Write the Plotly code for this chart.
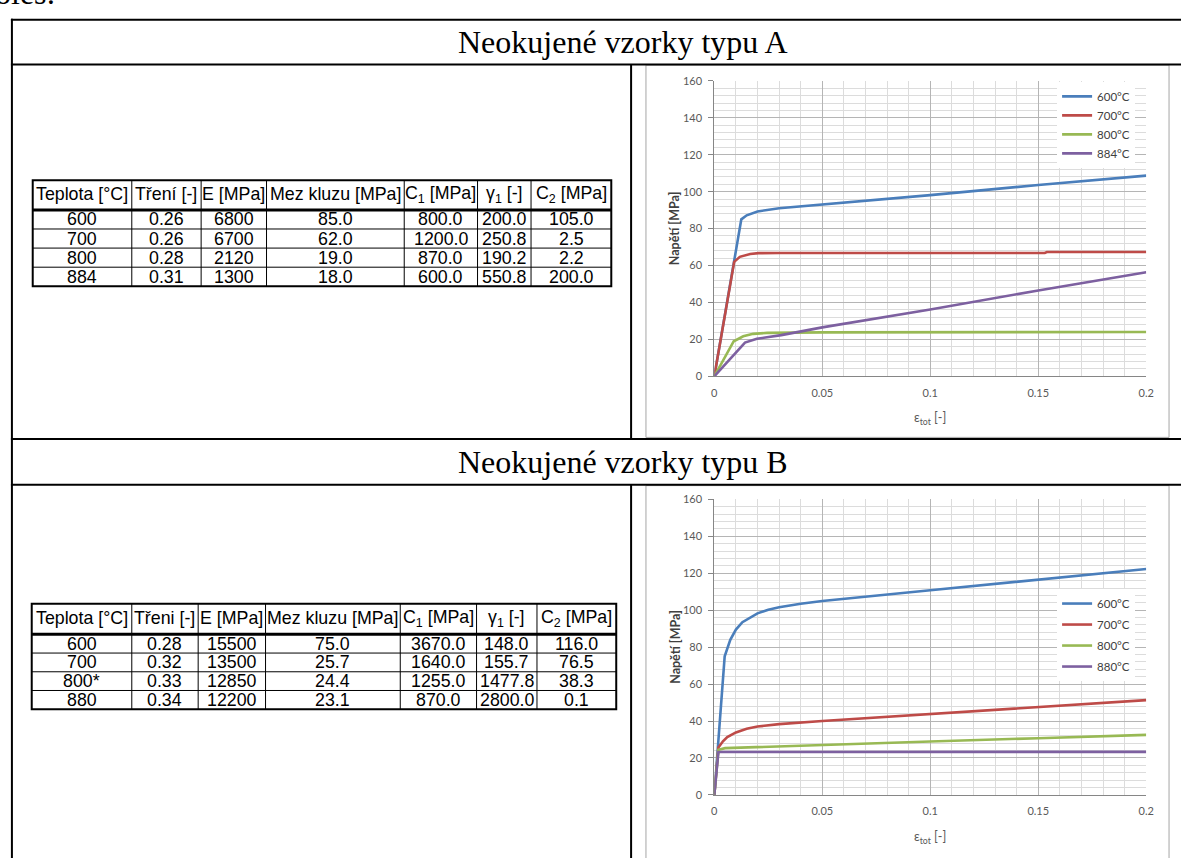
import plotly.graph_objects as go

W, H = 1181, 858

# ---------------- material parameters, type A ----------------
hdr_a = ["Teplota [°C]", "Tření [-]", "E [MPa]", "Mez kluzu [MPa]",
         "C<sub>1</sub> [MPa]", "γ<sub>1</sub> [-]", "C<sub>2</sub> [MPa]"]
teplota_a = ["600", "700", "800", "884"]
treni_a = [0.26, 0.26, 0.28, 0.31]
modul_a = [6800, 6700, 2120, 1300]
mez_a = [85.0, 62.0, 19.0, 18.0]
c1_a = [800.0, 1200.0, 870.0, 600.0]
gamma1_a = [200.0, 250.8, 190.2, 550.8]
c2_a = [105.0, 2.5, 2.2, 200.0]

# ---------------- material parameters, type B ----------------
hdr_b = ["Teplota [°C]", "Třeni [-]", "E [MPa]", "Mez kluzu [MPa]",
         "C<sub>1</sub> [MPa]", "γ<sub>1</sub> [-]", "C<sub>2</sub> [MPa]"]
teplota_b = ["600", "700", "800*", "880"]
treni_b = [0.28, 0.32, 0.33, 0.34]
modul_b = [15500, 13500, 12850, 12200]
mez_b = [75.0, 25.7, 24.4, 23.1]
c1_b = [3670.0, 1640.0, 1255.0, 870.0]
gamma1_b = [148.0, 155.7, 1477.8, 2800.0]
c2_b = [116.0, 76.5, 38.3, 0.1]

# ---------------- stress-strain curves, type A ----------------
names_a = ["600°C", "700°C", "800°C", "884°C"]
eps_a600 = [0, 0.0125, 0.015, 0.02, 0.03, 0.05, 0.1, 0.15, 0.2]
sig_a600 = [0, 85.0, 87.2, 89.3, 91.0, 93.0, 98.1, 103.6, 108.7]
eps_a700 = [0, 0.0092, 0.0118, 0.0166, 0.0205, 0.03, 0.153, 0.154, 0.2]
sig_a700 = [0, 62.0, 64.7, 66.2, 66.7, 66.8, 66.8, 67.3, 67.3]
eps_a800 = [0, 0.009, 0.0134, 0.018, 0.0245, 0.05, 0.2]
sig_a800 = [0, 19.0, 21.7, 23.0, 23.5, 23.8, 24.0]
eps_a884 = [0, 0.0142, 0.0197, 0.031, 0.05, 0.1, 0.15, 0.2]
sig_a884 = [0, 18.3, 20.3, 22.3, 26.5, 36.2, 46.5, 56.4]

# ---------------- stress-strain curves, type B ----------------
names_b = ["600°C", "700°C", "800°C", "880°C"]
eps_b600 = [0, 0.0048, 0.0074, 0.01, 0.013, 0.017, 0.02, 0.025, 0.03, 0.04, 0.05, 0.1, 0.15, 0.2]
sig_b600 = [0, 75.0, 84.0, 89.5, 93.5, 96.5, 98.3, 100.3, 101.6, 103.5, 105.0, 110.8, 116.4, 122.3]
eps_b700 = [0, 0.0019, 0.004, 0.006, 0.01, 0.015, 0.02, 0.03, 0.05, 0.1, 0.15, 0.2]
sig_b700 = [0, 25.7, 29.0, 31.3, 33.8, 35.8, 37.0, 38.3, 40.0, 43.9, 47.7, 51.3]
eps_b800 = [0, 0.0019, 0.005, 0.02, 0.05, 0.1, 0.15, 0.2]
sig_b800 = [0, 24.4, 25.3, 25.9, 26.9, 28.9, 30.7, 32.5]
eps_b880 = [0, 0.0019, 0.2]
sig_b880 = [0, 23.2, 23.3]

colors = ["#4A7EBB", "#BE4B48", "#98B954", "#7D60A0"]


def px(x):
    """page x pixel -> paper fraction"""
    return x / W


def py(y):
    """page y pixel -> paper fraction"""
    return 1 - y / H


fig = go.Figure()

# ---------------- charts ----------------
curves_a = [(eps_a600, sig_a600), (eps_a700, sig_a700), (eps_a800, sig_a800), (eps_a884, sig_a884)]
curves_b = [(eps_b600, sig_b600), (eps_b700, sig_b700), (eps_b800, sig_b800), (eps_b880, sig_b880)]

for (ex, sy), name, col in zip(curves_a, names_a, colors):
    fig.add_trace(go.Scatter(x=ex, y=sy, mode="lines", name=name,
                             line=dict(color=col, width=2.6),
                             xaxis="x", yaxis="y", legend="legend"))
for (ex, sy), name, col in zip(curves_b, names_b, colors):
    fig.add_trace(go.Scatter(x=ex, y=sy, mode="lines", name=name,
                             line=dict(color=col, width=2.6), legendgroup=name,
                             xaxis="x2", yaxis="y2", legend="legend2"))

tickfont = dict(family="Lato, Carlito, Calibri, sans-serif", size=11, color="#595959")
x_common = dict(range=[0, 0.2], dtick=0.05, tick0=0, showgrid=True, gridcolor="#B5B5B5",
                gridwidth=1, minor=dict(dtick=0.01, showgrid=True, gridcolor="#DCDCDC"),
                showline=True, linecolor="#868686", linewidth=1, zeroline=False,
                ticks="", tickfont=tickfont, ticklabelstandoff=6, fixedrange=True)
y_common = dict(range=[0, 160], dtick=20, tick0=0, showgrid=True, gridcolor="#B5B5B5",
                gridwidth=1, minor=dict(dtick=4, showgrid=True, gridcolor="#DCDCDC"),
                showline=True, linecolor="#868686", linewidth=1, zeroline=False,
                ticks="outside", ticklen=5, tickcolor="#868686",
                tickfont=tickfont, ticklabelstandoff=4, fixedrange=True)

fig.update_layout(
    xaxis=dict(domain=[px(718), px(1154)], anchor="y", **x_common),
    yaxis=dict(domain=[py(375), py(75)], anchor="x", **y_common),
    xaxis2=dict(domain=[px(718), px(1154)], anchor="y2", **x_common),
    yaxis2=dict(domain=[py(800), py(500)], anchor="x2", **y_common),
)

legend_font = dict(family="Lato, Carlito, Calibri, sans-serif", size=11.5, color="#404040")
fig.update_layout(
    legend=dict(x=px(1064), xanchor="left", y=py(76), yanchor="top", bgcolor="white",
                borderwidth=0, font=legend_font, itemwidth=30, tracegroupgap=0,
                itemclick=False, itemdoubleclick=False),
    legend2=dict(x=px(1064), xanchor="left", y=py(591), yanchor="top", bgcolor="white",
                 borderwidth=0, font=legend_font, itemwidth=30, tracegroupgap=2,
                 itemclick=False, itemdoubleclick=False),
)

annotations = []
shapes = []

# axis titles
for cy_plot, cy_title in [(225, 418), (650, 843)]:
    annotations.append(dict(x=px(678), y=py(cy_plot), xref="paper", yref="paper",
                            text="<b>Napětí [MPa]</b>", textangle=-90, showarrow=False,
                            xanchor="center", yanchor="middle",
                            font=dict(family="Lato, Carlito, sans-serif", size=12.5, color="#404040")))
    annotations.append(dict(x=px(936), y=py(cy_title), xref="paper", yref="paper",
                            text="ε<sub>tot</sub> [-]", showarrow=False,
                            xanchor="center", yanchor="middle",
                            font=dict(family="Lato, Carlito, sans-serif", size=12.5, color="#595959")))

# chart frames
shapes.append(dict(type="rect", xref="paper", yref="paper", x0=px(649), x1=px(1177),
                   y0=py(437), y1=py(59), line=dict(color="#A6A6A6", width=1), layer="below"))
shapes.append(dict(type="rect", xref="paper", yref="paper", x0=px(649), x1=px(1177),
                   y0=py(880), y1=py(486), line=dict(color="#A6A6A6", width=1), layer="below"))

# ---------------- document frame ----------------
blk = dict(color="black", width=2)
for yy in [13, 58.5, 438.7, 485]:
    shapes.append(dict(type="line", xref="paper", yref="paper", x0=px(8), x1=px(1200),
                       y0=py(yy), y1=py(yy), line=blk))
shapes.append(dict(type="line", xref="paper", yref="paper", x0=px(9), x1=px(9),
                   y0=py(12), y1=py(880), line=blk))
for y0, y1 in [(58.5, 438.7), (485, 880)]:
    shapes.append(dict(type="line", xref="paper", yref="paper", x0=px(634), x1=px(634),
                       y0=py(y0), y1=py(y1), line=blk))

serif = dict(family="Liberation Serif, Times New Roman, serif", size=32, color="black")
annotations.append(dict(x=px(626), y=py(36), xref="paper", yref="paper",
                        text="Neokujené vzorky typu A", showarrow=False,
                        xanchor="center", yanchor="middle", font=serif))
annotations.append(dict(x=px(626), y=py(462), xref="paper", yref="paper",
                        text="Neokujené vzorky typu B", showarrow=False,
                        xanchor="center", yanchor="middle", font=serif))
# tail of the preceding document line, mostly above the page edge
annotations.append(dict(x=px(-10), y=py(-14), xref="paper", yref="paper",
                        text="oles:", showarrow=False,
                        xanchor="left", yanchor="middle", font=serif))


# ---------------- parameter tables ----------------
def table_rows(tep, tr, e, mez, c1, g1, c2):
    rows = []
    for i in range(len(tep)):
        rows.append([tep[i], f"{tr[i]:.2f}", f"{e[i]:d}", f"{mez[i]:.1f}",
                     f"{c1[i]:.1f}", f"{g1[i]:.1f}", f"{c2[i]:.1f}"])
    return rows


def draw_table(edges, top, head_h, row_h, header, rows):
    cell_font = dict(family="Liberation Sans, Arial, sans-serif", size=17.8, color="black")
    n = len(rows)
    bottom = top + head_h + n * row_h
    # inner grid
    for xe in edges[1:-1]:
        shapes.append(dict(type="line", xref="paper", yref="paper", x0=px(xe), x1=px(xe),
                           y0=py(top), y1=py(bottom), line=dict(color="black", width=1)))
    for r in range(1, n):
        yy = top + head_h + r * row_h
        shapes.append(dict(type="line", xref="paper", yref="paper", x0=px(edges[0]), x1=px(edges[-1]),
                           y0=py(yy), y1=py(yy), line=dict(color="black", width=1)))
    shapes.append(dict(type="line", xref="paper", yref="paper", x0=px(edges[0]), x1=px(edges[-1]),
                       y0=py(top + head_h), y1=py(top + head_h), line=dict(color="black", width=3)))
    shapes.append(dict(type="rect", xref="paper", yref="paper", x0=px(edges[0]), x1=px(edges[-1]),
                       y0=py(bottom), y1=py(top), line=dict(color="black", width=2)))
    # texts
    for c, label in enumerate(header):
        cx = (edges[c] + edges[c + 1]) / 2
        annotations.append(dict(x=px(cx), y=py(top + head_h / 2 - 1), xref="paper", yref="paper",
                                text=label, showarrow=False, xanchor="center", yanchor="middle",
                                font=cell_font))
    for r, row in enumerate(rows):
        cy = top + head_h + (r + 0.5) * row_h
        for c, val in enumerate(row):
            cx = (edges[c] + edges[c + 1]) / 2
            annotations.append(dict(x=px(cx), y=py(cy), xref="paper", yref="paper",
                                    text=val, showarrow=False, xanchor="center", yanchor="middle",
                                    font=cell_font))


draw_table([30, 130, 200, 266, 405, 479, 533, 614], 176, 30, 19.4, hdr_a,
           table_rows(teplota_a, treni_a, modul_a, mez_a, c1_a, gamma1_a, c2_a))
draw_table([29, 130, 197, 265, 401, 478, 539, 619], 606, 31, 19.0, hdr_b,
           table_rows(teplota_b, treni_b, modul_b, mez_b, c1_b, gamma1_b, c2_b))

fig.update_layout(
    width=W, height=H, autosize=False,
    margin=dict(l=0, r=0, t=0, b=0),
    paper_bgcolor="white", plot_bgcolor="white",
    showlegend=True,
    annotations=annotations, shapes=shapes,
)

fig.write_html("out.html", config={"displayModeBar": False})
